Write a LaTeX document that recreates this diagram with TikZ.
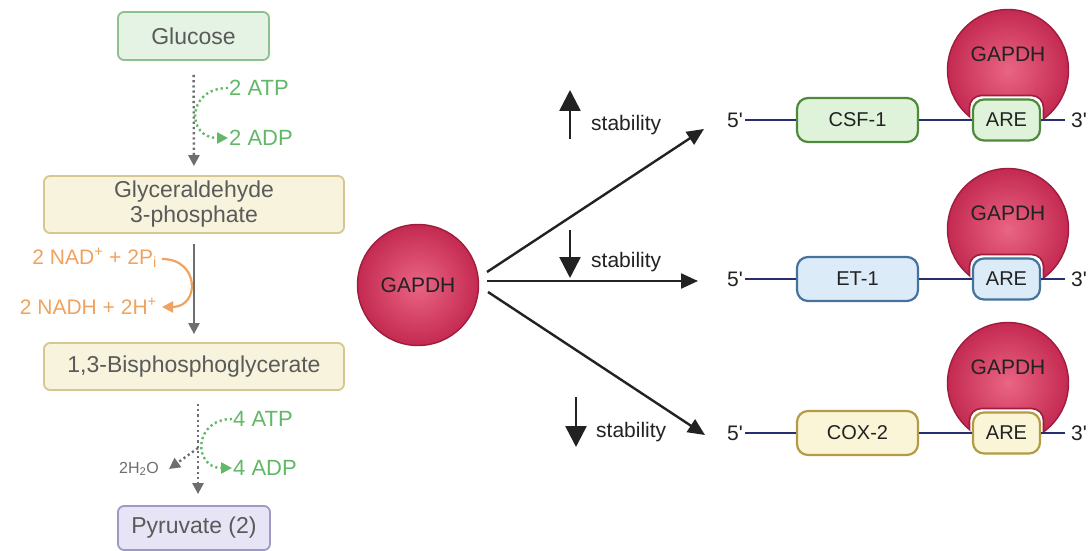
\documentclass[tikz,border=0pt]{standalone}
\usepackage{fontspec}
\setmainfont{Liberation Sans}
\usetikzlibrary{arrows.meta,calc}
\definecolor{gluFill}{HTML}{E4F3E3}
\definecolor{gluDraw}{HTML}{8CC08C}
\definecolor{gtpFill}{HTML}{F8F3DC}
\definecolor{gtpDraw}{HTML}{D6C690}
\definecolor{pyrFill}{HTML}{E7E5F5}
\definecolor{pyrDraw}{HTML}{9D9AC6}
\definecolor{leftText}{HTML}{5A5A5A}
\definecolor{arrowGray}{HTML}{6E6E6E}
\definecolor{atpGreen}{HTML}{62B866}
\definecolor{nadOrange}{HTML}{F0A35E}
\definecolor{csfFill}{HTML}{DFF3DA}
\definecolor{csfDraw}{HTML}{4F8A3C}
\definecolor{etFill}{HTML}{DCEBF8}
\definecolor{etDraw}{HTML}{46739C}
\definecolor{coxFill}{HTML}{FAF5D6}
\definecolor{coxDraw}{HTML}{B39C45}
\definecolor{rnaBlue}{HTML}{27306E}
\definecolor{gapIn}{HTML}{EA6584}
\definecolor{gapOut}{HTML}{C42A51}
\definecolor{gapDraw}{HTML}{9E1D3D}
\definecolor{ink}{HTML}{222222}
\tikzset{
  lbox/.style={rectangle, rounded corners=6pt, line width=1.8pt, text=leftText,
    font=\fontsize{23}{25}\selectfont, align=center, inner sep=0pt},
  genebox/.style={rectangle, rounded corners=11pt, line width=2.2pt, text=ink,
    font=\fontsize{20}{24}\selectfont, inner sep=0pt},
  gapd/.style={circle, minimum size=121pt, draw=gapDraw, line width=1.4pt,
    inner color=gapIn, outer color=gapOut, inner sep=0pt},
  gaptext/.style={text=ink, font=\fontsize{21}{24}\selectfont, inner sep=0pt},
  endlab/.style={text=ink, font=\fontsize{21}{24}\selectfont, inner sep=0pt},
  gtext/.style={text=atpGreen, font=\fontsize{22}{24}\selectfont, inner sep=1pt},
  otext/.style={text=nadOrange, font=\fontsize{21}{24}\selectfont, inner sep=1pt},
  dots/.style={line width=2.4pt, dash pattern=on 2.2pt off 3pt},
  gtip/.style={-{Triangle[length=11pt,width=11pt]}},
  rna/.style={draw=rnaBlue, line width=2.4pt},
  bigarrow/.style={draw=ink, line width=2.4pt, -{Triangle[length=17pt,width=15pt]}},
  stabarrow/.style={draw=ink, line width=2.6pt, -{Triangle[length=21pt,width=21pt]}},
  stabtext/.style={text=ink, font=\fontsize{21}{24}\selectfont, inner sep=0pt},
}
\begin{document}
\begin{tikzpicture}[x=1pt,y=-1pt]
\useasboundingbox (0,0) rectangle (1088,551);
\fill[white] (0,0) rectangle (1088,551);

% ---------------- left: glycolysis ----------------
\node[lbox, fill=gluFill, draw=gluDraw, minimum width=151pt, minimum height=48pt] (glu) at (193.5,36) {Glucose};
\node[lbox, fill=gtpFill, draw=gtpDraw, minimum width=300pt, minimum height=57pt] (gap) at (194,204.5) {Glyceraldehyde\\3-phosphate};
\node[lbox, fill=gtpFill, draw=gtpDraw, minimum width=300pt, minimum height=47pt] (bpg) at (194,366.5) {1,3-Bisphosphoglycerate};
\node[lbox, fill=pyrFill, draw=pyrDraw, minimum width=152pt, minimum height=44pt] (pyr) at (194,528) {Pyruvate (2)};

\draw[arrowGray, dots, gtip, shorten <=14pt, shorten >=9pt] (glu.south) -- (gap.north);
\node[gtext, anchor=west] (atp1) at (228,88) {2 ATP};
\node[gtext, anchor=west] (adp1) at (228,138) {2 ADP};
\draw[atpGreen, dots, gtip] (atp1.west) .. controls +(-42,0) and +(-42,0) .. (adp1.west);

\draw[arrowGray, line width=2.2pt, gtip, shorten <=10pt, shorten >=8pt] (gap.south) -- (bpg.north);
\node[otext, anchor=east] (nad) at (158,258) {2 NAD\textsuperscript{+} + 2P\textsubscript{i}};
\node[otext, anchor=east] (nadh) at (158,306) {2 NADH + 2H\textsuperscript{+}};
\draw[nadOrange, line width=2.2pt, gtip] ($(nad.east)+(4,1)$) .. controls +(38,0) and +(38,0) .. ($(nadh.east)+(4,1)$);

\coordinate (b2s) at ($(bpg.south)+(4,13)$);
\coordinate (b2e) at ($(pyr.north)+(4,-11)$);
\draw[arrowGray, dots, gtip] (b2s) -- (b2e);
\node[gtext, anchor=west] (atp2) at (232,419) {4 ATP};
\node[gtext, anchor=west] (adp2) at (232,468) {4 ADP};
\draw[atpGreen, dots, gtip] (atp2.west) .. controls +(-39,0) and +(-39,0) .. (adp2.west);
\node[text=arrowGray, font=\fontsize{16}{18}\selectfont, anchor=east, inner sep=0pt] (water) at (159,469) {2H\textsubscript{2}O};
\coordinate (br) at (198,448);
\draw[arrowGray, dots, gtip] (br) -- ($(water.east)+(10,0)$);

% ---------------- centre ----------------
\node[gapd] (g0) at (418,285) {};
\node[gaptext] (g0t) at (g0.center) {GAPDH};

% ---------------- right rows ----------------
\foreach \row/\L/\gene/\fc/\dc in {1/120/CSF-1/csfFill/csfDraw, 2/279/ET-1/etFill/etDraw, 3/433/COX-2/coxFill/coxDraw}{
  \node[gapd] (c\row) at (1008,\L-50) {};
  \node[gaptext] (ct\row) at (1008,\L-66) {GAPDH};
  \begin{scope}
    \clip (c\row.center) circle (61pt);
    \draw[fill=white, draw=gapDraw, line width=1.6pt, rounded corners=12pt] (969.5,\L-24.5) rectangle (1043.5,\L+24);
  \end{scope}
  \node[endlab, anchor=east] (p5\row) at (743,\L) {5\textquotesingle};
  \node[endlab, anchor=west] (p3\row) at (1071,\L) {3\textquotesingle};
  \node[genebox, fill=\fc, draw=\dc, minimum width=121pt, minimum height=44pt] (gene\row) at (857.5,\L) {\gene};
  \node[genebox, fill=\fc, draw=\dc, minimum width=67pt, minimum height=41pt] (are\row) at (1006.5,\L) {ARE};
  \draw[rna, shorten <=2pt] (p5\row.east) -- (gene\row.west);
  \draw[rna] (gene\row.east) -- (are\row.west);
  \draw[rna, shorten >=6pt] (are\row.east) -- (p3\row.west);
}

% arrows from GAPDH
\coordinate (t1) at (704,129);
\coordinate (t2) at (698,281);
\coordinate (t3) at (705,435);
\draw[bigarrow] ($(g0.center)+(69,-13)$) -- (t1);
\draw[bigarrow] ($(g0.center)+(69,-4)$) -- (t2);
\draw[bigarrow] ($(g0.center)+(70,7)$) -- (t3);

% stability indicators
\node[stabtext, anchor=west] (s1) at (591,125) {stability};
\node[stabtext, anchor=west] (s2) at (591,262) {stability};
\node[stabtext, anchor=west] (s3) at (596,432) {stability};
\coordinate (u1a) at (570,139); \coordinate (u1b) at (570,90);
\coordinate (d2a) at (570,230); \coordinate (d2b) at (570,278);
\coordinate (d3a) at (576,397); \coordinate (d3b) at (576,447);
\draw[stabarrow] (u1a) -- (u1b);
\draw[stabarrow] (d2a) -- (d2b);
\draw[stabarrow] (d3a) -- (d3b);
\end{tikzpicture}
\end{document}
